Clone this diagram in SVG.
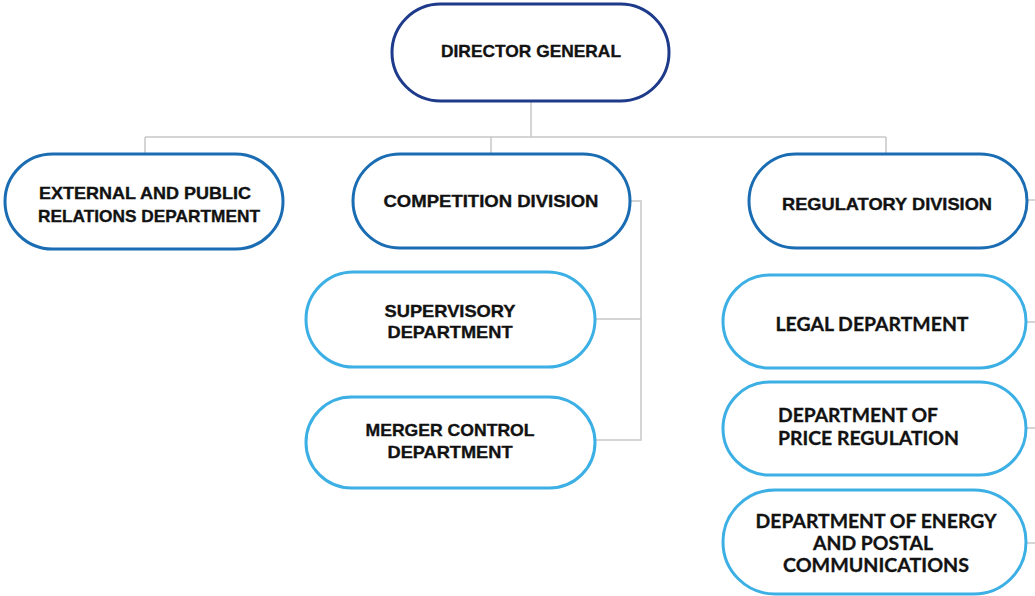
<svg xmlns="http://www.w3.org/2000/svg" width="1035" height="596" viewBox="0 0 1035 596">
  <style>
    .box { fill: #ffffff; stroke-width: 3; }
    .top { stroke: #1e3a8a; }
    .div { stroke: #1b6db3; }
    .dept { stroke: #3cb0e5; }
    .lbl { font-family: "Liberation Sans", Arial, sans-serif; font-weight: bold; font-size: 17px; fill: #121212; stroke: #121212; stroke-width: 0.35; text-anchor: middle; }
    .lbl2 { font-family: Lato, "Open Sans", sans-serif; font-weight: bold; font-size: 18px; fill: #121212; stroke: #121212; stroke-width: 0.3; text-anchor: middle; }
    .start { text-anchor: start; }
    .wire { fill: none; stroke: #c8c8c8; stroke-width: 1.5; }
  </style>

  <rect width="1035" height="596" fill="#ffffff"/>

  <g id="connectors">
    <path class="wire" d="M531,101 V137 M145,137 H886 M145,137 V153 M491,137 V154 M886,137 V153"/>
    <path class="wire" d="M630,201 H641 V440 H595 M595,319 H641"/>
    <path class="wire" d="M1027,200 H1035 M1026,322 H1035 M1026,428 H1035 M1026,543 H1035"/>
  </g>

  <g id="director-general">
    <rect class="box top" x="392" y="4" width="277" height="97" rx="48.5"/>
    <text class="lbl" x="531" y="57" textLength="180" lengthAdjust="spacingAndGlyphs">DIRECTOR GENERAL</text>
  </g>

  <g id="external-public-relations">
    <rect class="box div" x="5" y="154" width="278" height="95" rx="47.5"/>
    <text class="lbl" x="145" y="199" textLength="212" lengthAdjust="spacingAndGlyphs">EXTERNAL AND PUBLIC</text>
    <text class="lbl" x="149" y="222" textLength="222" lengthAdjust="spacingAndGlyphs">RELATIONS DEPARTMENT</text>
  </g>

  <g id="competition-division">
    <rect class="box div" x="353" y="154" width="277" height="94" rx="47"/>
    <text class="lbl" x="491" y="207" textLength="215" lengthAdjust="spacingAndGlyphs">COMPETITION DIVISION</text>
  </g>

  <g id="regulatory-division">
    <rect class="box div" x="749" y="154" width="278" height="94" rx="47"/>
    <text class="lbl" x="887" y="210" textLength="210" lengthAdjust="spacingAndGlyphs">REGULATORY DIVISION</text>
  </g>

  <g id="supervisory-department">
    <rect class="box dept" x="306" y="272" width="289" height="95" rx="47.5"/>
    <text class="lbl" x="450" y="317" textLength="131" lengthAdjust="spacingAndGlyphs">SUPERVISORY</text>
    <text class="lbl" x="450" y="338" textLength="125" lengthAdjust="spacingAndGlyphs">DEPARTMENT</text>
  </g>

  <g id="merger-control-department">
    <rect class="box dept" x="306" y="397" width="289" height="91" rx="45.5"/>
    <text class="lbl" x="450" y="436" textLength="169" lengthAdjust="spacingAndGlyphs">MERGER CONTROL</text>
    <text class="lbl" x="450" y="458" textLength="125" lengthAdjust="spacingAndGlyphs">DEPARTMENT</text>
  </g>

  <g id="legal-department">
    <rect class="box dept" x="723" y="275" width="303" height="93" rx="46.5"/>
    <text class="lbl2" x="872" y="331" textLength="193" lengthAdjust="spacingAndGlyphs">LEGAL DEPARTMENT</text>
  </g>

  <g id="price-regulation-department">
    <rect class="box dept" x="723" y="382" width="303" height="93" rx="46.5"/>
    <text class="lbl2 start" x="778" y="422" textLength="160" lengthAdjust="spacingAndGlyphs">DEPARTMENT OF</text>
    <text class="lbl2 start" x="778" y="445" textLength="181" lengthAdjust="spacingAndGlyphs">PRICE REGULATION</text>
  </g>

  <g id="energy-postal-department">
    <rect class="box dept" x="723" y="490" width="303" height="104" rx="52"/>
    <text class="lbl2" x="876" y="528" textLength="241" lengthAdjust="spacingAndGlyphs">DEPARTMENT OF ENERGY</text>
    <text class="lbl2" x="873" y="550" textLength="120" lengthAdjust="spacingAndGlyphs">AND POSTAL</text>
    <text class="lbl2" x="876" y="572" textLength="186" lengthAdjust="spacingAndGlyphs">COMMUNICATIONS</text>
  </g>
</svg>
